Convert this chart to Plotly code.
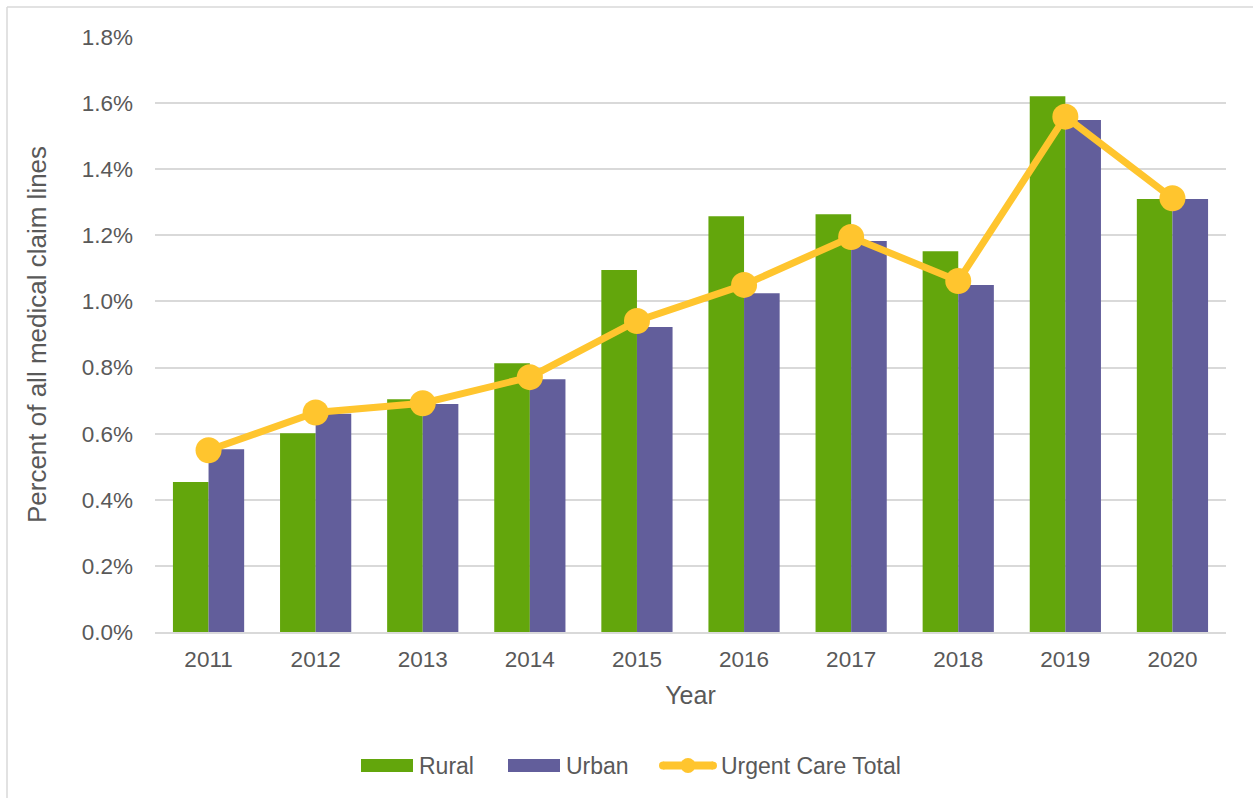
import plotly.graph_objects as go

years = ["2011", "2012", "2013", "2014", "2015", "2016", "2017", "2018", "2019", "2020"]
rural = [0.454, 0.601, 0.704, 0.813, 1.095, 1.258, 1.264, 1.152, 1.621, 1.310]
urban = [0.553, 0.660, 0.690, 0.765, 0.923, 1.025, 1.183, 1.050, 1.549, 1.310]
total = [0.550, 0.664, 0.692, 0.771, 0.941, 1.050, 1.195, 1.062, 1.559, 1.312]
y_ticks = [0.0, 0.2, 0.4, 0.6, 0.8, 1.0, 1.2, 1.4, 1.6, 1.8]
y_labels = ["0.0%", "0.2%", "0.4%", "0.6%", "0.8%", "1.0%", "1.2%", "1.4%", "1.6%", "1.8%"]

FONT = "Liberation Sans, Arial, sans-serif"
TXT = "#595959"
GREEN = "#63A60C"
PURPLE = "#625E9B"
YELLOW = "#FFC52E"
GRID = "#D9D9D9"

fig = go.Figure()
fig.add_trace(go.Bar(x=years, y=rural, name="Rural", marker=dict(color=GREEN, line=dict(width=0))))
fig.add_trace(go.Bar(x=years, y=urban, name="Urban", marker=dict(color=PURPLE, line=dict(width=0))))
fig.add_trace(go.Scatter(x=years, y=total, name="Urgent Care Total", mode="lines+markers",
                         line=dict(color=YELLOW, width=7),
                         marker=dict(color=YELLOW, size=26)))

W, H = 1253, 798
L, R, T, B = 155, 27, 37, 166
pw, ph = W - L - R, H - T - B


def px(x):
    return (x - L) / pw


def py(y):
    return (H - B - y) / ph


fig.update_layout(
    width=W, height=H,
    margin=dict(l=L, r=R, t=T, b=B),
    paper_bgcolor="white", plot_bgcolor="white",
    barmode="group", bargap=0.335, bargroupgap=0,
    font=dict(family=FONT, size=22.5, color=TXT),
    showlegend=False,
    xaxis=dict(range=[-0.5, len(years) - 0.5], showgrid=False, showline=True, linecolor=GRID, linewidth=1.5,
               ticks="", tickfont=dict(size=22.5, color=TXT), ticklabelstandoff=6,
               title=dict(text="Year", font=dict(size=25, color=TXT), standoff=16)),
    yaxis=dict(range=[0, 1.8], tickvals=y_ticks, ticktext=y_labels,
               showgrid=True, gridcolor=GRID, gridwidth=1.5, zeroline=False,
               showline=False, ticks="", ticklabelstandoff=21,
               tickfont=dict(size=22.5, color=TXT),
               title=dict(text="Percent of all medical claim lines", font=dict(size=26, color=TXT), standoff=27)),
)

# frame (left and top edges)
fig.add_shape(type="line", xref="paper", yref="paper", x0=px(7), x1=px(7), y0=py(H + 5), y1=py(7),
              line=dict(color=GRID, width=1.5))
fig.add_shape(type="line", xref="paper", yref="paper", x0=px(7), x1=px(W + 5), y0=py(7), y1=py(7),
              line=dict(color=GRID, width=1.5))

# custom legend
LY = 765.5
legend_items = [("rect", GREEN, 361, 413, "Rural", 417),
                ("rect", PURPLE, 508, 560, "Urban", 564),
                ("line", YELLOW, 659, 717, "Urgent Care Total", 719)]
for kind, col, xa, xb, label, tx in legend_items:
    if kind == "rect":
        fig.add_shape(type="rect", xref="paper", yref="paper", x0=px(xa), x1=px(xb),
                      y0=py(LY + 6.5), y1=py(LY - 6.5), fillcolor=col, line=dict(width=0))
    else:
        fig.add_shape(type="line", xref="paper", yref="paper", x0=px(xa + 4), x1=px(xb - 4),
                      y0=py(LY), y1=py(LY), line=dict(color=col, width=8))
        xm = (xa + xb) / 2
        fig.add_shape(type="circle", xref="paper", yref="paper", x0=px(xm - 7.5), x1=px(xm + 7.5),
                      y0=py(LY + 7.5), y1=py(LY - 7.5), fillcolor=col, line=dict(width=0))
        fig.add_shape(type="circle", xref="paper", yref="paper", x0=px(xa), x1=px(xa + 8),
                      y0=py(LY + 4), y1=py(LY - 4), fillcolor=col, line=dict(width=0))
        fig.add_shape(type="circle", xref="paper", yref="paper", x0=px(xb - 8), x1=px(xb),
                      y0=py(LY + 4), y1=py(LY - 4), fillcolor=col, line=dict(width=0))
    fig.add_annotation(xref="paper", yref="paper", x=px(tx), y=py(LY), xanchor="left", yanchor="middle",
                       text=label, showarrow=False, font=dict(size=23, color=TXT))

fig.write_html("out.html", config={"displayModeBar": False},
               post_script="document.body.style.margin='0';document.body.style.overflow='hidden';")
